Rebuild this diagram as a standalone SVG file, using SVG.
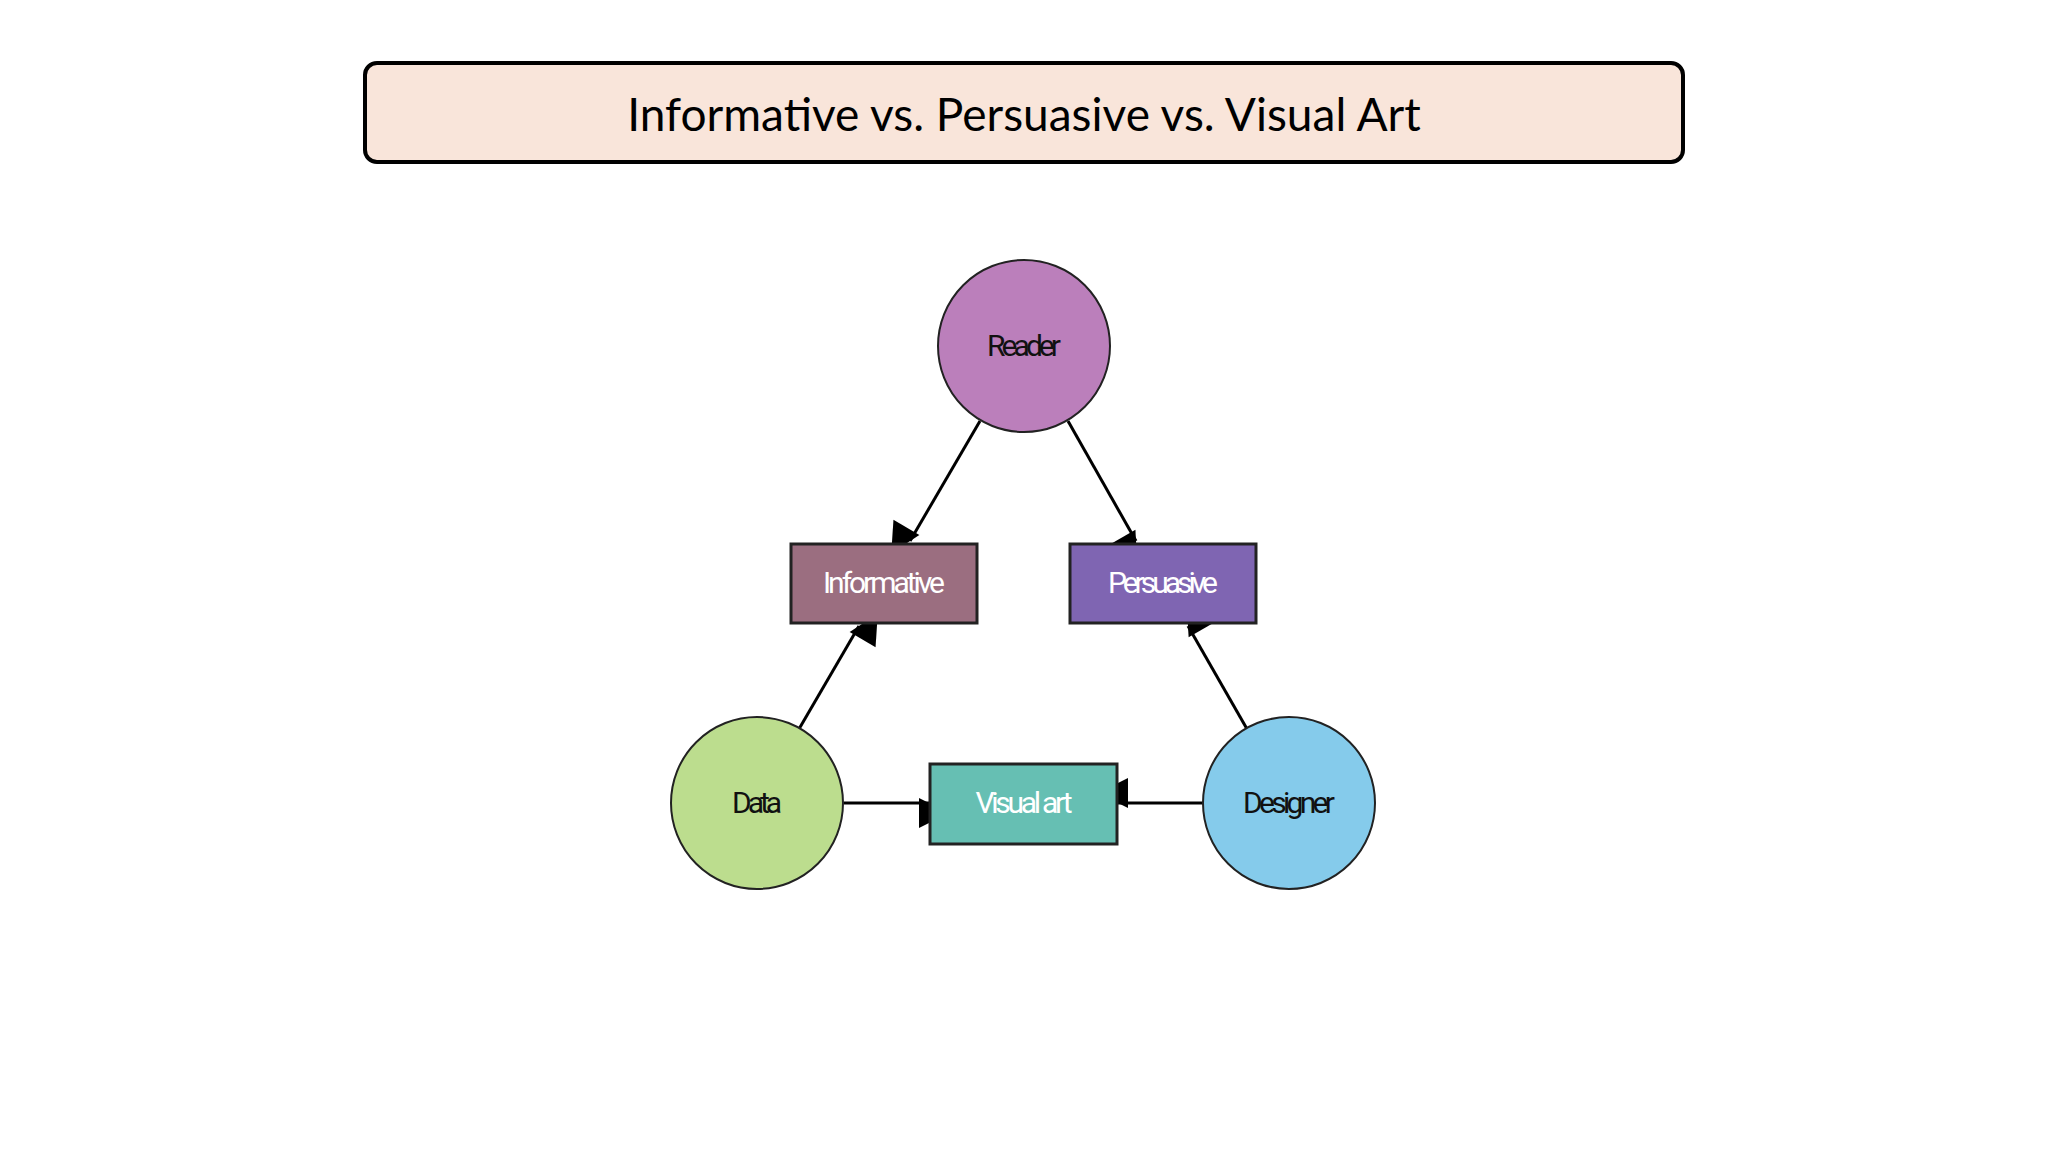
<svg xmlns="http://www.w3.org/2000/svg" width="2048" height="1152" viewBox="0 0 2048 1152">
<defs>
<marker id="ah" viewBox="0 0 10 10" refX="10" refY="5" markerWidth="10" markerHeight="10" markerUnits="userSpaceOnUse" orient="auto" style="overflow:visible">
<path d="M0,0 L10,5 L0,10 Z" fill="#000" transform="scale(3)"/>
</marker>
<style>
.c{stroke:#222;stroke-width:2}
.r{stroke:#222;stroke-width:3}
.t{font-family:"Liberation Sans Narrow","Roboto","Liberation Sans",sans-serif;font-size:30px;text-anchor:middle}
.e{stroke:#000;stroke-width:3;fill:none}
</style>
</defs>
<rect width="2048" height="1152" fill="#fff"/>
<g id="title">
<rect x="365" y="63" width="1318" height="99" rx="12" fill="#f9e5da" stroke="#000" stroke-width="4"/>
<text x="1024" y="131" font-family="Lato,'Open Sans',sans-serif" font-size="46" text-anchor="middle">Informative vs. Persuasive vs. Visual Art</text>
</g>
<g id="connectors">
<line class="e" x1="980" y1="421" x2="910" y2="541" marker-end="url(#ah)"/>
<line class="e" x1="1068" y1="421" x2="1136" y2="541" marker-end="url(#ah)"/>
<line class="e" x1="799" y1="729" x2="859" y2="626" marker-end="url(#ah)"/>
<line class="e" x1="1247" y1="729" x2="1188" y2="626" marker-end="url(#ah)"/>
<line class="e" x1="844" y1="803" x2="929" y2="803" marker-end="url(#ah)"/>
<line class="e" x1="1203" y1="803" x2="1118" y2="803" marker-end="url(#ah)"/>
</g>
<g id="reader"><circle class="c" cx="1024" cy="346" r="86" fill="#bb7fbb"/><text class="t" x="1024" y="356" fill="#111" textLength="74">Reader</text></g>
<g id="data"><circle class="c" cx="757" cy="803" r="86" fill="#bcdd8e"/><text class="t" x="757" y="813" fill="#111" textLength="50">Data</text></g>
<g id="designer"><circle class="c" cx="1289" cy="803" r="86" fill="#85cbeb"/><text class="t" x="1289" y="813" fill="#111" textLength="92">Designer</text></g>
<g id="informative"><rect class="r" x="791" y="544" width="186" height="79" fill="#9b6e80"/><text class="t" x="884" y="593" fill="#fff" textLength="122">Informative</text></g>
<g id="persuasive"><rect class="r" x="1070" y="544" width="186" height="79" fill="#7f65b2"/><text class="t" x="1163" y="593" fill="#fff" textLength="110">Persuasive</text></g>
<g id="visualart"><rect class="r" x="930" y="764" width="187" height="80" fill="#66bfb3"/><text class="t" x="1024" y="813" fill="#fff" textLength="97">Visual art</text></g>
</svg>
